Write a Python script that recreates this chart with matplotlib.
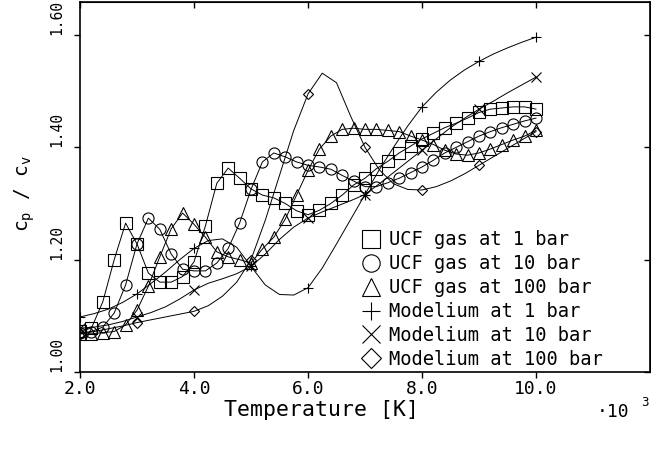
import numpy as np
import matplotlib
matplotlib.use("Agg")
import matplotlib.pyplot as plt
from matplotlib.lines import Line2D

plt.rcParams["font.family"] = ["DejaVu Sans Mono", "DejaVu Sans"]

# UCF gas: points every 0.2 (x 10^3 K)
t_ucf = np.round(np.arange(2.0, 10.01, 0.2), 1)
ucf_1bar = [1.073, 1.078, 1.125, 1.200, 1.265, 1.228, 1.176, 1.160, 1.160, 1.170,
            1.196, 1.260, 1.336, 1.363, 1.345, 1.326, 1.315, 1.310, 1.300, 1.287,
            1.280, 1.288, 1.300, 1.315, 1.333, 1.345, 1.362, 1.375, 1.390, 1.402,
            1.415, 1.425, 1.435, 1.443, 1.452, 1.462, 1.468, 1.470, 1.472, 1.472,
            1.468]
ucf_10bar = [1.070, 1.072, 1.080, 1.105, 1.155, 1.228, 1.274, 1.254, 1.210, 1.183,
             1.180, 1.180, 1.194, 1.220, 1.265, 1.325, 1.374, 1.390, 1.383, 1.374,
             1.368, 1.365, 1.361, 1.350, 1.340, 1.330, 1.330, 1.337, 1.345, 1.355,
             1.365, 1.377, 1.390, 1.400, 1.410, 1.420, 1.428, 1.435, 1.441, 1.447,
             1.452]
ucf_100bar = [1.068, 1.068, 1.070, 1.072, 1.084, 1.110, 1.153, 1.205, 1.255, 1.283,
              1.263, 1.240, 1.214, 1.205, 1.200, 1.194, 1.219, 1.240, 1.272, 1.315,
              1.359, 1.397, 1.420, 1.432, 1.434, 1.432, 1.432, 1.430, 1.428, 1.420,
              1.413, 1.405, 1.395, 1.388, 1.386, 1.390, 1.397, 1.405, 1.413, 1.420,
              1.430]

# Modelium: smooth curves read every 0.25, markers at whole numbers
t_mod = np.arange(2.0, 10.01, 0.25)
mod_1bar = [1.098, 1.104, 1.112, 1.124, 1.139, 1.158, 1.178, 1.200, 1.220, 1.234,
            1.237, 1.222, 1.188, 1.155, 1.138, 1.137, 1.150, 1.185, 1.228, 1.272,
            1.316, 1.360, 1.400, 1.438, 1.472, 1.498, 1.520, 1.538, 1.553, 1.566,
            1.577, 1.587, 1.596]
mod_10bar = [1.078, 1.080, 1.084, 1.090, 1.098, 1.106, 1.116, 1.130, 1.146, 1.158,
             1.166, 1.175, 1.188, 1.210, 1.236, 1.258, 1.274, 1.285, 1.295, 1.305,
             1.316, 1.335, 1.355, 1.375, 1.395, 1.415, 1.435, 1.452, 1.468, 1.482,
             1.497, 1.511, 1.525]
mod_100bar = [1.068, 1.072, 1.077, 1.082, 1.088, 1.093, 1.098, 1.103, 1.108, 1.118,
              1.135, 1.160, 1.200, 1.270, 1.350, 1.430, 1.495, 1.532, 1.515, 1.455,
              1.400, 1.360, 1.335, 1.325, 1.324, 1.330, 1.340, 1.353, 1.368, 1.383,
              1.398, 1.413, 1.428]

labels = ["UCF gas at 1 bar", "UCF gas at 10 bar", "UCF gas at 100 bar",
          "Modelium at 1 bar", "Modelium at 10 bar", "Modelium at 100 bar"]
markers = ["s", "o", "^", "+", "x", "D"]

fig = plt.figure(figsize=(6.51, 4.53), dpi=100)
ax = fig.add_axes([80 / 651, 81 / 453, 570 / 651, 370 / 453])

lw = 0.7
for y, m in zip([ucf_1bar, ucf_10bar, ucf_100bar], markers[:3]):
    ax.plot(t_ucf, y, color="black", lw=lw, marker=m, ms=8 if m != "^" else 8.5,
            mfc="none", mec="black", mew=0.8)
for y, m in zip([mod_1bar, mod_10bar, mod_100bar], markers[3:]):
    ax.plot(t_mod, y, color="black", lw=lw, marker=m, markevery=4,
            ms=5.5 if m == "D" else 7, mfc="none", mec="black", mew=0.8)

ax.set_xlim(2.0, 12.0)
ax.set_ylim(1.0, 1.0 + 370 / 561.7)
ax.set_xticks([2, 4, 6, 8, 10])
ax.set_xticklabels(["2.0", "4.0", "6.0", "8.0", "10.0"])
ax.set_yticks([1.0, 1.2, 1.4, 1.6])
ax.set_yticklabels(["1.00", "1.20", "1.40", "1.60"])
ax.tick_params(direction="out", length=4, width=1)
ax.tick_params(axis="x", pad=2, labelsize=13)
ax.tick_params(axis="y", pad=13, labelsize=10.5)
for lab in ax.get_yticklabels():
    lab.set_rotation(90)
    lab.set_va("bottom")
    lab.set_ha("center")
for sp in ax.spines.values():
    sp.set_linewidth(1.2)

top = ax.secondary_xaxis("top")
top.set_xticks([2, 4, 6, 8, 10])
top.tick_params(direction="in", length=4, width=1, labeltop=False)
right = ax.secondary_yaxis("right")
right.set_yticks([1.0, 1.2, 1.4, 1.6])
right.tick_params(direction="in", length=4, width=1, labelright=False)

fig.text(321 / 651, 1 - 410 / 453, "Temperature [K]", ha="center", va="center",
         fontsize=15.5)
fig.text(613 / 651, 1 - 412 / 453, "\u00b710", ha="center", va="center", fontsize=13)
fig.text(645 / 651, 1 - 402 / 453, "3", ha="center", va="center", fontsize=9)
fig.text(25 / 651, 1 - 193 / 453, r"c$_\mathregular{p}$ / c$_\mathregular{v}$",
         rotation=90, ha="center", va="center", fontsize=14)

handles = []
for m in markers:
    handles.append(Line2D([], [], ls="none", marker=m, color="black",
                          ms=10 if m == "D" else 12.5, mfc="none", mew=0.8))
ax.legend(handles, labels, loc="lower left", bbox_to_anchor=(0.468, -0.027),
          frameon=False, fontsize=13.5, handletextpad=0.35, labelspacing=0.26,
          handlelength=1.2, borderpad=0.2)

fig.savefig("out.png", dpi=100)
